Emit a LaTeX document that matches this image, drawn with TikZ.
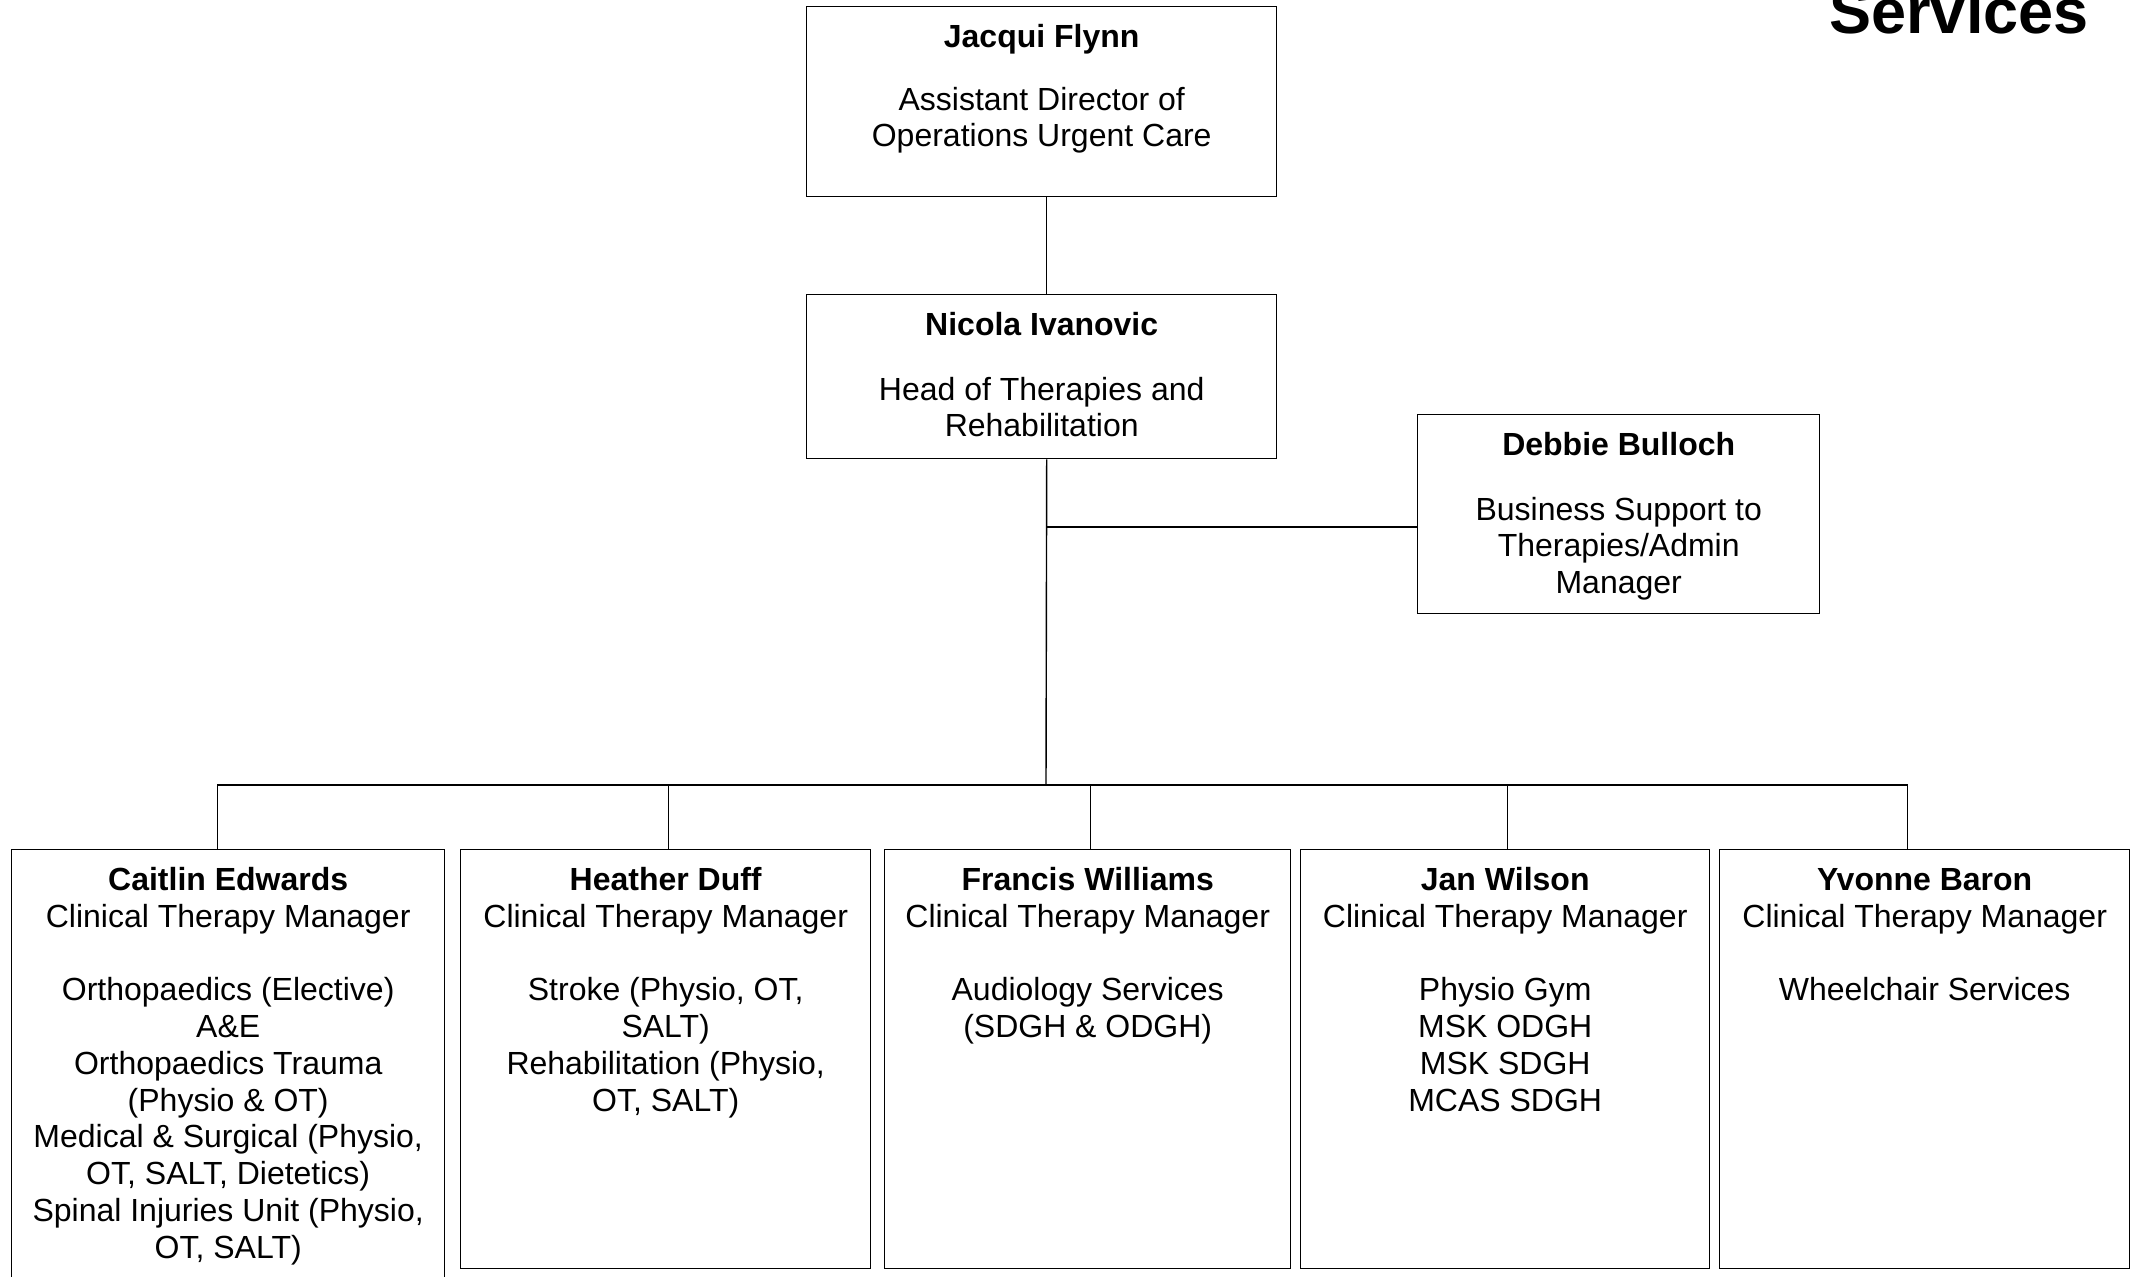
\documentclass[tikz,border=0pt]{standalone}
\usepackage{fontspec}
\setmainfont{Liberation Sans}
\usepackage{tikz}
\tikzstyle{orgbox}=[draw=black,line width=.7pt,inner sep=0pt,anchor=north west]
\tikzstyle{link}=[black,line width=.7pt]
% box text: width, height, lines (top aligned)
\newcommand{\boxtext}[3]{\parbox[t][#2][t]{#1}{\centering\vspace*{7.4pt}\strut #3}}

\begin{document}
\begin{tikzpicture}[x=.5pt,y=-.5pt,font=\fontsize{16}{18.4}\selectfont]
	\useasboundingbox (0,0) rectangle (2136,1276);

	\node[anchor=base west,inner sep=0pt,font=\fontsize{31.5}{36}\selectfont\bfseries] (title) at (1829,33) {Services};

	%top
	\node[orgbox] (jacqui) at (806,6) {\boxtext{235pt}{95pt}{\textbf{Jacqui Flynn}\\[13pt] Assistant Director of\\ Operations Urgent Care}};
	\node[orgbox] (nicola) at (806,294) {\boxtext{235pt}{82pt}{\textbf{Nicola Ivanovic}\\[14pt] Head of Therapies and\\ Rehabilitation}};
	\node[orgbox] (debbie) at (1417,414) {\boxtext{201pt}{99.5pt}{\textbf{Debbie Bulloch}\\[14pt] Business Support to\\ Therapies/Admin\\ Manager}};

	%managers
	\node[orgbox] (caitlin) at (11,849) {\boxtext{216.5pt}{220pt}{\textbf{Caitlin Edwards}\\ Clinical Therapy Manager\\[18.4pt] Orthopaedics (Elective)\\ A\&E\\ Orthopaedics Trauma\\ (Physio \& OT)\\ Medical \& Surgical (Physio,\\ OT, SALT, Dietetics)\\ Spinal Injuries Unit (Physio,\\ OT, SALT)}};
	\node[orgbox] (heather) at (460,849) {\boxtext{205pt}{209.5pt}{\textbf{Heather Duff}\\ Clinical Therapy Manager\\[18.4pt] Stroke (Physio, OT,\\ SALT)\\ Rehabilitation (Physio,\\ OT, SALT)}};
	\node[orgbox] (francis) at (884,849) {\boxtext{203pt}{209.5pt}{\textbf{Francis Williams}\\ Clinical Therapy Manager\\[18.4pt] Audiology Services\\ (SDGH \& ODGH)}};
	\node[orgbox] (jan) at (1300,849) {\boxtext{204.5pt}{209.5pt}{\textbf{Jan Wilson}\\ Clinical Therapy Manager\\[18.4pt] Physio Gym\\ MSK ODGH\\ MSK SDGH\\ MCAS SDGH}};
	\node[orgbox] (yvonne) at (1719,849) {\boxtext{205pt}{209.5pt}{\textbf{Yvonne Baron}\\ Clinical Therapy Manager\\[18.4pt] Wheelchair Services}};

	%lines
	\coordinate (branch) at (1046,527);
	\coordinate (bus) at (1046,785);
	\draw[link] ([xshift=2.5pt]jacqui.south) -- ([xshift=2.5pt]nicola.north);
	\draw[link] ([xshift=2.5pt]nicola.south) -- (bus);
	\draw[link] (branch) -- (branch -| debbie.west);
	\draw[link] ([xshift=-5.25pt]caitlin.north) |- (bus) -| ([xshift=-8.75pt]yvonne.north);
	\foreach \n/\dx in {heather/1.5pt,francis/1.5pt,jan/1.25pt}
		\draw[link] ([xshift=\dx]\n.north) -- ([xshift=\dx]\n.north |- bus);
\end{tikzpicture}
\end{document}
